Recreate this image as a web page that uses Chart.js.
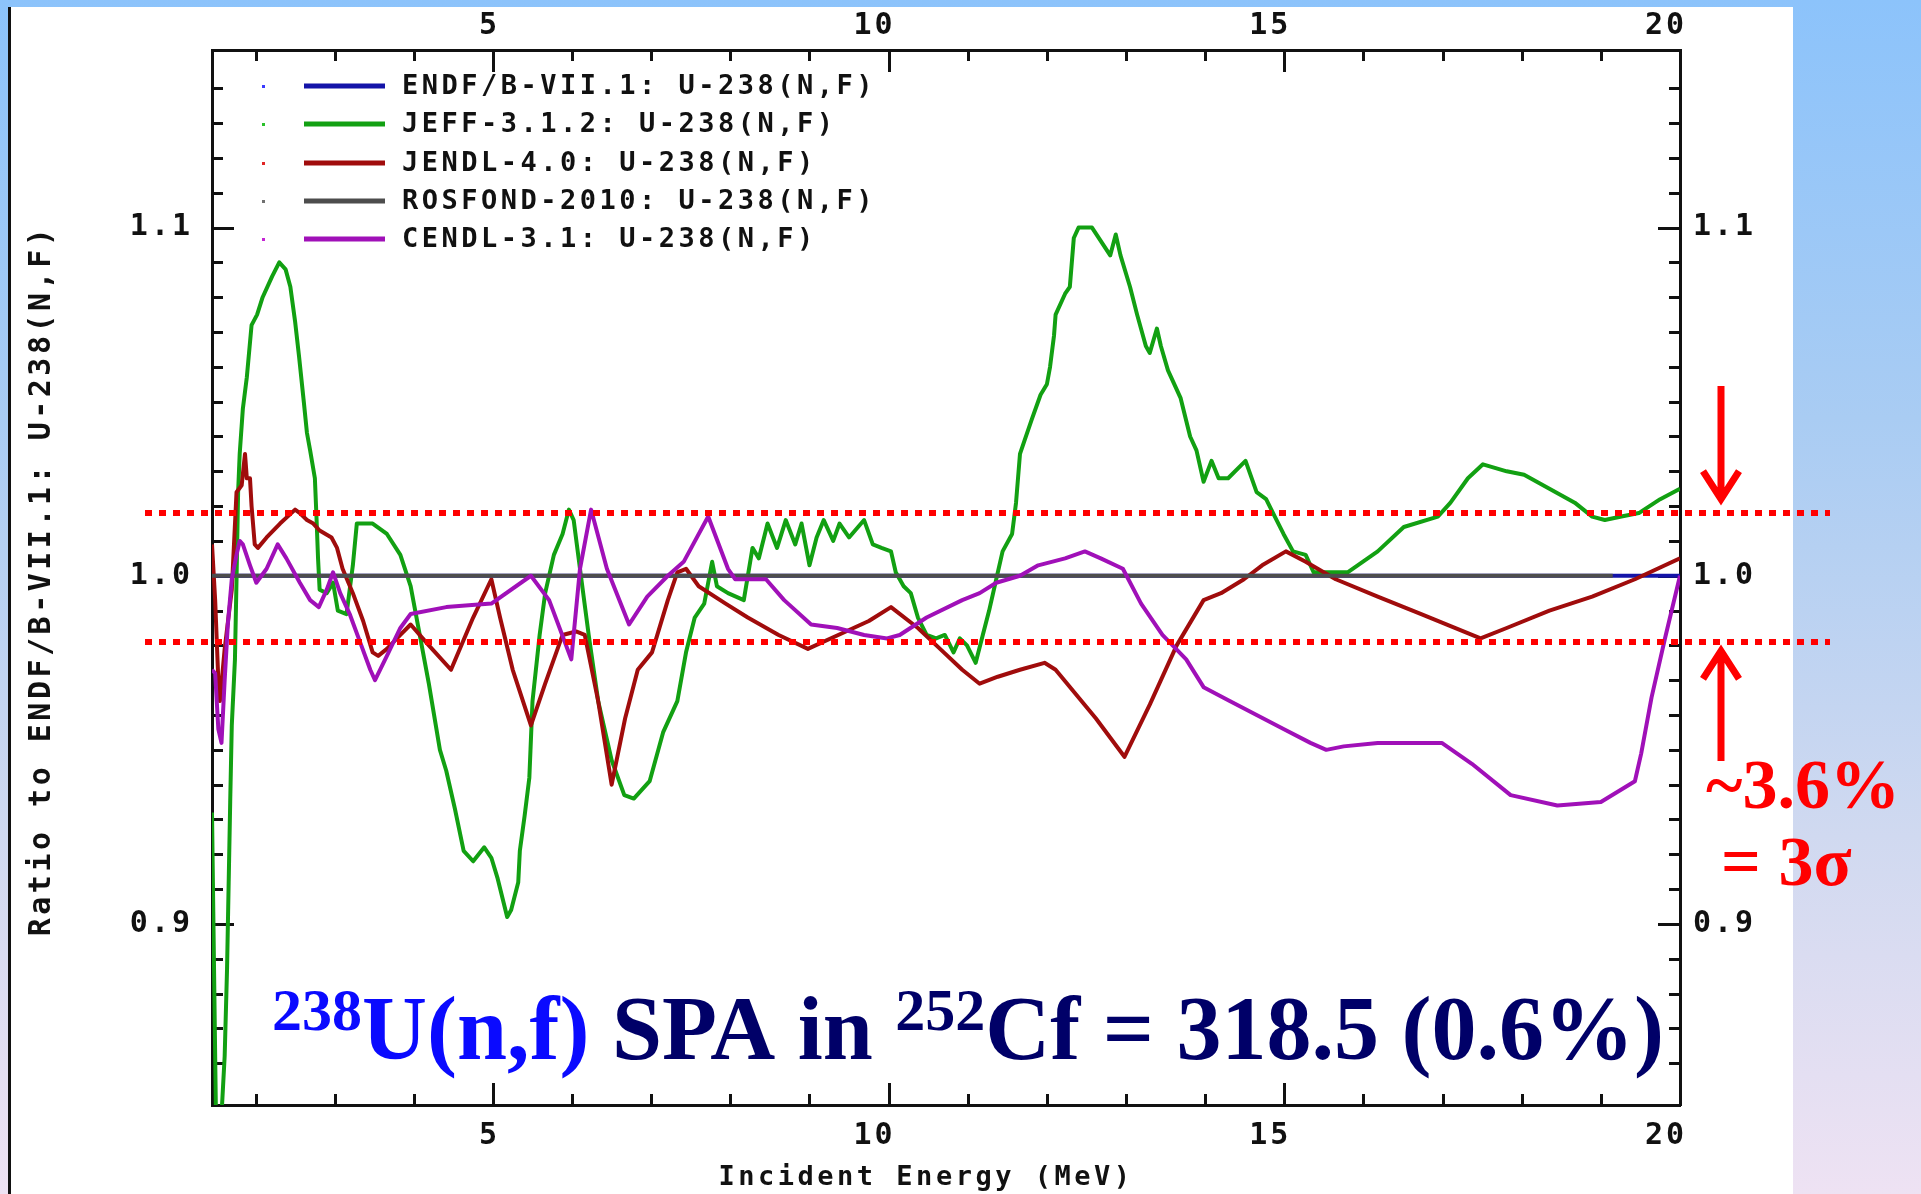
<!DOCTYPE html>
<html>
<head>
<meta charset="utf-8">
<title>U-238(n,f) evaluations, ratio to ENDF/B-VII.1</title>
<script src="https://cdn.jsdelivr.net/npm/chart.js@4.4.0/dist/chart.umd.min.js"></script>
<style>
  html, body { margin: 0; padding: 0; }
  body {
    width: 1921px; height: 1194px; overflow: hidden; position: relative;
    background: linear-gradient(to bottom, #8cc3fb 0%, #a9ccf3 35%, #d0d9f0 70%, #eee2f3 100%);
  }
  #sheet {
    position: absolute; left: 8px; top: 7px; width: 1785px; height: 1187px;
    background: #fff; border-left: 3px solid #111; box-sizing: border-box;
  }
  #wrap { position: absolute; left: 0; top: 0; width: 1921px; height: 1194px; }
</style>
</head>
<body>
<div id="sheet"></div>
<div id="wrap"><canvas id="ratio"></canvas></div>
<script>
// U-238(n,f) cross sections of several libraries divided by ENDF/B-VII.1
// [incident energy (MeV), ratio]
const endf71 = [[1.45, 1.0], [20.0, 1.0]];

const jeff312 = [
  [1.45, 0.932], [1.50, 0.845], [1.57, 0.845], [1.61, 0.862], [1.64, 0.887], [1.68, 0.935],
  [1.70, 0.957], [1.74, 0.976], [1.76, 0.999], [1.78, 1.024], [1.80, 1.035], [1.84, 1.048],
  [1.89, 1.057], [1.95, 1.072], [2.02, 1.075], [2.09, 1.080], [2.21, 1.086], [2.30, 1.090],
  [2.38, 1.088], [2.44, 1.083], [2.50, 1.073], [2.55, 1.063], [2.61, 1.050], [2.65, 1.041],
  [2.69, 1.036], [2.75, 1.028], [2.77, 1.017], [2.79, 1.005], [2.81, 0.996], [2.90, 0.995],
  [2.98, 0.998], [3.04, 0.990], [3.15, 0.989], [3.23, 1.003], [3.28, 1.015], [3.48, 1.015],
  [3.66, 1.012], [3.83, 1.006], [3.96, 0.997], [4.19, 0.969], [4.33, 0.950], [4.41, 0.944],
  [4.52, 0.933], [4.63, 0.921], [4.75, 0.918], [4.89, 0.922], [4.98, 0.919], [5.06, 0.913],
  [5.18, 0.902], [5.23, 0.904], [5.32, 0.912], [5.34, 0.921], [5.40, 0.931], [5.46, 0.942],
  [5.50, 0.964], [5.59, 0.983], [5.66, 0.995], [5.77, 1.006], [5.88, 1.012], [5.96, 1.019],
  [6.02, 1.016], [6.10, 1.002], [6.21, 0.983], [6.33, 0.964], [6.50, 0.947], [6.66, 0.937],
  [6.78, 0.936], [6.98, 0.941], [7.15, 0.955], [7.33, 0.964], [7.44, 0.978], [7.55, 0.988],
  [7.67, 0.992], [7.77, 1.004], [7.83, 0.997], [7.97, 0.995], [8.17, 0.993], [8.28, 1.008],
  [8.36, 1.005], [8.47, 1.015], [8.59, 1.008], [8.70, 1.016], [8.82, 1.009], [8.90, 1.015],
  [9.00, 1.003], [9.09, 1.011], [9.18, 1.016], [9.30, 1.010], [9.38, 1.015], [9.50, 1.011],
  [9.69, 1.016], [9.80, 1.009], [9.91, 1.008], [10.03, 1.007], [10.09, 1.001], [10.19, 0.997],
  [10.28, 0.995], [10.37, 0.988], [10.48, 0.983], [10.60, 0.982], [10.71, 0.983], [10.82, 0.978],
  [10.90, 0.982], [10.99, 0.980], [11.10, 0.975], [11.19, 0.983], [11.27, 0.990], [11.36, 0.999],
  [11.44, 1.007], [11.56, 1.012], [11.61, 1.021], [11.66, 1.035], [11.72, 1.039], [11.81, 1.045],
  [11.92, 1.052], [12.00, 1.055], [12.04, 1.060], [12.09, 1.069], [12.11, 1.075], [12.23, 1.081],
  [12.29, 1.083], [12.34, 1.097], [12.40, 1.100], [12.57, 1.100], [12.80, 1.092], [12.87, 1.098],
  [12.93, 1.092], [13.05, 1.083], [13.14, 1.075], [13.25, 1.066], [13.30, 1.064], [13.39, 1.071],
  [13.44, 1.066], [13.53, 1.059], [13.69, 1.051], [13.81, 1.040], [13.89, 1.036], [13.98, 1.027],
  [14.08, 1.033], [14.17, 1.028], [14.29, 1.028], [14.51, 1.033], [14.65, 1.024], [14.77, 1.022],
  [14.88, 1.017], [14.99, 1.012], [15.11, 1.007], [15.27, 1.006], [15.37, 1.001], [15.80, 1.001],
  [16.18, 1.007], [16.51, 1.014], [16.94, 1.017], [17.10, 1.021], [17.32, 1.028], [17.51, 1.032],
  [17.81, 1.030], [18.03, 1.029], [18.35, 1.025], [18.67, 1.021], [18.89, 1.017], [19.05, 1.016],
  [19.26, 1.017], [19.48, 1.018], [19.75, 1.022], [20.00, 1.025]
];

const jendl40 = [
  [1.45, 1.009], [1.49, 0.993], [1.53, 0.970], [1.55, 0.964], [1.61, 0.979], [1.70, 0.996],
  [1.76, 1.024], [1.825, 1.026], [1.867, 1.035], [1.89, 1.028], [1.93, 1.028], [1.95, 1.020],
  [1.99, 1.009], [2.03, 1.008], [2.14, 1.011], [2.31, 1.015], [2.50, 1.019], [2.56, 1.018],
  [2.65, 1.016], [2.73, 1.015], [2.81, 1.013], [2.96, 1.011], [3.03, 1.008], [3.10, 1.002],
  [3.23, 0.995], [3.36, 0.987], [3.48, 0.978], [3.55, 0.977], [3.66, 0.979], [3.83, 0.983],
  [3.96, 0.986], [4.19, 0.980], [4.47, 0.973], [4.75, 0.988], [4.98, 0.999], [5.09, 0.988],
  [5.25, 0.973], [5.48, 0.957], [5.66, 0.969], [5.88, 0.983], [6.05, 0.984], [6.16, 0.983],
  [6.33, 0.964], [6.50, 0.940], [6.67, 0.959], [6.83, 0.973], [7.01, 0.978], [7.21, 0.993],
  [7.33, 1.001], [7.44, 1.002], [7.60, 0.997], [7.94, 0.992], [8.22, 0.988], [8.61, 0.983],
  [8.98, 0.979], [9.46, 0.984], [9.75, 0.987], [10.03, 0.991], [10.37, 0.985], [10.65, 0.979],
  [10.93, 0.973], [11.15, 0.969], [11.38, 0.971], [11.66, 0.973], [11.97, 0.975], [12.11, 0.973],
  [12.62, 0.959], [12.98, 0.948], [13.30, 0.963], [13.64, 0.980], [13.98, 0.993], [14.20, 0.995],
  [14.49, 0.999], [14.72, 1.003], [15.02, 1.007], [15.27, 1.004], [15.65, 0.999], [16.18, 0.994],
  [16.73, 0.989], [17.48, 0.982], [17.81, 0.985], [18.35, 0.990], [18.89, 0.994], [19.43, 0.999],
  [20.00, 1.005]
];

const rosfond2010 = [[1.45, 1.0], [19.15, 1.0]];

const cendl31 = [
  [1.45, 0.973], [1.49, 0.972], [1.53, 0.956], [1.57, 0.952], [1.61, 0.970], [1.65, 0.986],
  [1.70, 0.999], [1.76, 1.006], [1.80, 1.010], [1.84, 1.009], [1.93, 1.003], [2.01, 0.998],
  [2.14, 1.002], [2.28, 1.009], [2.39, 1.005], [2.56, 0.998], [2.69, 0.993], [2.80, 0.991],
  [2.90, 0.996], [2.98, 1.001], [3.07, 0.995], [3.19, 0.989], [3.32, 0.981], [3.45, 0.973],
  [3.51, 0.970], [3.66, 0.977], [3.83, 0.985], [3.96, 0.989], [4.41, 0.991], [4.98, 0.992],
  [5.48, 1.000], [5.71, 0.993], [5.99, 0.976], [6.10, 1.002], [6.24, 1.019], [6.44, 1.002],
  [6.72, 0.986], [6.95, 0.994], [7.21, 1.000], [7.41, 1.004], [7.72, 1.017], [7.97, 1.002],
  [8.06, 0.999], [8.45, 0.999], [8.68, 0.993], [9.02, 0.986], [9.35, 0.985], [9.69, 0.983],
  [9.98, 0.982], [10.14, 0.983], [10.48, 0.988], [10.93, 0.993], [11.15, 0.995], [11.36, 0.998],
  [11.66, 1.000], [11.89, 1.003], [12.23, 1.005], [12.48, 1.007], [12.68, 1.005], [12.96, 1.002],
  [13.19, 0.992], [13.46, 0.983], [13.76, 0.976], [13.98, 0.968], [14.31, 0.964], [14.65, 0.960],
  [14.99, 0.956], [15.33, 0.952], [15.53, 0.950], [15.75, 0.951], [16.18, 0.952], [16.99, 0.952],
  [17.37, 0.946], [17.86, 0.937], [18.45, 0.934], [19.00, 0.935], [19.43, 0.941], [19.51, 0.949],
  [19.64, 0.965], [19.81, 0.982], [20.00, 1.000]
];

const seriesLabels = [
  'ENDF/B-VII.1: U-238(N,F)',
  'JEFF-3.1.2: U-238(N,F)',
  'JENDL-4.0: U-238(N,F)',
  'ROSFOND-2010: U-238(N,F)',
  'CENDL-3.1: U-238(N,F)'
];
const seriesData = [endf71, jeff312, jendl40, rosfond2010, cendl31];

const xTickLabels = [5, 10, 15, 20];
const yTickLabels = [0.9, 1.0, 1.1];
const bandLimits = [1.018, 0.981];   // ~3.6 % wide band around unity

const xTitle = 'Incident Energy (MeV)';
const yTitle = 'Ratio to ENDF/B-VII.1: U-238(N,F)';
const bandLabel = ['~3.6%', '= 3σ'];
const spaNote = [
  { text: '238', sup: true, blue: true },
  { text: 'U(n,f)', sup: false, blue: true },
  { text: ' SPA in ', sup: false, blue: false },
  { text: '252', sup: true, blue: false },
  { text: 'Cf = 318.5 (0.6%)', sup: false, blue: false }
];

const E_MIN = 1.45, E_MAX = 20;
const R_MIN = 0.848, R_MAX = 1.151;

const lineColors = ['#1414a8', '#12a012', '#a00c0c', '#4d4d4d', '#a010b8'];
const dotColors = ['#3a3aff', '#2ac02a', '#e02424', '#707070', '#c424d4'];
const drawOrder = [5, 4, 3, 2, 1];

const MONO = '"DejaVu Sans Mono", "Liberation Mono", monospace';
const SERIF = '"Liberation Serif", "Times New Roman", serif';

// tick labels get the wide spacing of the old plotting font
const spacedText = {
  id: 'spacedText',
  beforeDraw(chart) { chart.ctx.letterSpacing = '3px'; },
  afterDraw(chart) { chart.ctx.letterSpacing = '0px'; }
};

// inward ticks on all four sides of the frame
const frameTicks = {
  id: 'frameTicks',
  beforeDatasetsDraw(chart) {
    const { ctx, chartArea: a, scales } = chart;
    ctx.save();
    ctx.strokeStyle = '#111';
    ctx.lineWidth = 3;
    ctx.beginPath();
    for (let e = 2; e < 20; e++) {
      const x = Math.round(scales.x.getPixelForValue(e)) + 0.5;
      const len = e % 5 === 0 ? 22 : 11;
      ctx.moveTo(x, a.bottom); ctx.lineTo(x, a.bottom - len);
      ctx.moveTo(x, a.top); ctx.lineTo(x, a.top + len);
    }
    for (let k = 86; k <= 114; k++) {
      const y = Math.round(scales.y.getPixelForValue(k / 100)) + 0.5;
      const len = k % 10 === 0 ? 22 : 11;
      ctx.moveTo(a.left, y); ctx.lineTo(a.left + len, y);
      ctx.moveTo(a.right, y); ctx.lineTo(a.right - len, y);
    }
    ctx.stroke();
    ctx.restore();
  }
};

const plotLegend = {
  id: 'plotLegend',
  afterDatasetsDraw(chart) {
    const { ctx, chartArea: a } = chart;
    ctx.save();
    ctx.font = `bold 27px ${MONO}`;
    ctx.letterSpacing = '3.5px';
    ctx.textBaseline = 'middle';
    chart.data.datasets.forEach((ds, i) => {
      const y = Math.round(a.top + 36 + i * 38.3);
      ctx.fillStyle = dotColors[i];
      ctx.fillRect(a.left + 50, y - 1, 3, 3);
      ctx.strokeStyle = ds.borderColor;
      ctx.lineWidth = 5;
      ctx.beginPath();
      ctx.moveTo(a.left + 92, y);
      ctx.lineTo(a.left + 173, y);
      ctx.stroke();
      ctx.fillStyle = '#111';
      ctx.fillText(ds.label, a.left + 190, y + 1);
    });
    ctx.restore();
  }
};

const axisTitles = {
  id: 'axisTitles',
  afterDraw(chart) {
    const { ctx, chartArea: a } = chart;
    ctx.save();
    ctx.fillStyle = '#111';
    ctx.textAlign = 'center';
    ctx.textBaseline = 'alphabetic';
    ctx.font = `bold 27px ${MONO}`;
    ctx.letterSpacing = '3.5px';
    ctx.fillText(xTitle, (a.left + a.right) / 2 - 20, a.bottom + 80);
    ctx.font = `bold 30px ${MONO}`;
    ctx.letterSpacing = '3.5px';
    ctx.translate(50, (a.top + a.bottom) / 2 + 3);
    ctx.rotate(-Math.PI / 2);
    ctx.fillText(yTitle, 0, 0);
    ctx.restore();
  }
};

function arrow(ctx, x, from, tip) {
  const dir = Math.sign(tip - from);
  ctx.beginPath();
  ctx.moveTo(x, from);
  ctx.lineTo(x, tip - dir * 4);
  ctx.moveTo(x - 18, tip - dir * 32);
  ctx.lineTo(x, tip - dir * 4);
  ctx.lineTo(x + 18, tip - dir * 32);
  ctx.stroke();
}

// dotted band limits, arrows and the band label
const bandMarks = {
  id: 'bandMarks',
  afterDraw(chart) {
    const { ctx, chartArea: a, scales } = chart;
    const yU = scales.y.getPixelForValue(bandLimits[0]);
    const yL = scales.y.getPixelForValue(bandLimits[1]);
    ctx.save();
    ctx.strokeStyle = '#ff0000';
    ctx.lineWidth = 6;
    ctx.setLineDash([7, 7]);
    ctx.beginPath();
    ctx.moveTo(a.left - 67, yU); ctx.lineTo(a.right + 150, yU);
    ctx.moveTo(a.left - 67, yL); ctx.lineTo(a.right + 150, yL);
    ctx.stroke();
    ctx.setLineDash([]);
    ctx.lineWidth = 7;
    ctx.lineJoin = 'miter';
    const ax = a.right + 41;
    arrow(ctx, ax, yU - 127, yU - 10);
    arrow(ctx, ax, yL + 119, yL + 5);
    ctx.fillStyle = '#ff0000';
    ctx.font = `bold 70px ${SERIF}`;
    ctx.letterSpacing = '0px';
    ctx.fillText(bandLabel[0], a.right + 26, yL + 166);
    ctx.fillText(bandLabel[1], a.right + 41, yL + 243);
    ctx.restore();
  }
};

const spaLabel = {
  id: 'spaLabel',
  afterDraw(chart) {
    const { ctx, chartArea: a } = chart;
    const base = a.bottom - 46;
    let x = a.left + 60;
    ctx.save();
    ctx.letterSpacing = '0px';
    ctx.textBaseline = 'alphabetic';
    spaNote.forEach(part => {
      ctx.font = `bold ${part.sup ? 60 : 90}px ${SERIF}`;
      ctx.fillStyle = part.blue ? '#0a0aff' : '#000068';
      ctx.fillText(part.text, x, part.sup ? base - 29 : base);
      x += ctx.measureText(part.text).width;
    });
    ctx.restore();
  }
};

const tickFont = { family: MONO, size: 30, weight: 'bold' };
const frameGrid = { drawOnChartArea: false, drawTicks: false };
const frameBorder = { color: '#111', width: 3 };

function energyAxis(position, height, padding) {
  return {
    type: 'linear', position, min: E_MIN, max: E_MAX,
    afterFit: s => { s.height = height; },
    afterBuildTicks: s => { s.ticks = xTickLabels.map(v => ({ value: v })); },
    grid: frameGrid,
    border: frameBorder,
    ticks: {
      font: tickFont, color: '#111', align: 'end', labelOffset: 7, padding,
      maxRotation: 0, minRotation: 0, autoSkip: false,
      callback: v => String(v)
    }
  };
}

function ratioAxis(position, width, padding) {
  return {
    type: 'linear', position, min: R_MIN, max: R_MAX,
    afterFit: s => { s.width = width; },
    afterBuildTicks: s => { s.ticks = yTickLabels.map(v => ({ value: v })); },
    grid: frameGrid,
    border: frameBorder,
    ticks: {
      font: tickFont, color: '#111', padding, autoSkip: false,
      callback: v => v.toFixed(1)
    }
  };
}

new Chart(document.getElementById('ratio'), {
  type: 'line',
  data: {
    datasets: seriesLabels.map((label, i) => ({
      label,
      data: seriesData[i].map(([x, y]) => ({ x, y })),
      borderColor: lineColors[i],
      backgroundColor: lineColors[i],
      borderWidth: 4,
      borderJoinStyle: 'round',
      pointRadius: 0,
      tension: 0,
      fill: false,
      order: drawOrder[i]
    }))
  },
  options: {
    responsive: true,
    maintainAspectRatio: false,
    devicePixelRatio: 1,
    animation: false,
    events: [],
    layout: { padding: 0 },
    plugins: {
      legend: { display: false },
      tooltip: { enabled: false }
    },
    scales: {
      x: energyAxis('bottom', 89, 13),
      xTop: energyAxis('top', 50, 6),
      y: ratioAxis('left', 212, 19),
      yRight: ratioAxis('right', 241, 13)
    }
  },
  plugins: [spacedText, frameTicks, plotLegend, axisTitles, bandMarks, spaLabel]
});
</script>
</body>
</html>
